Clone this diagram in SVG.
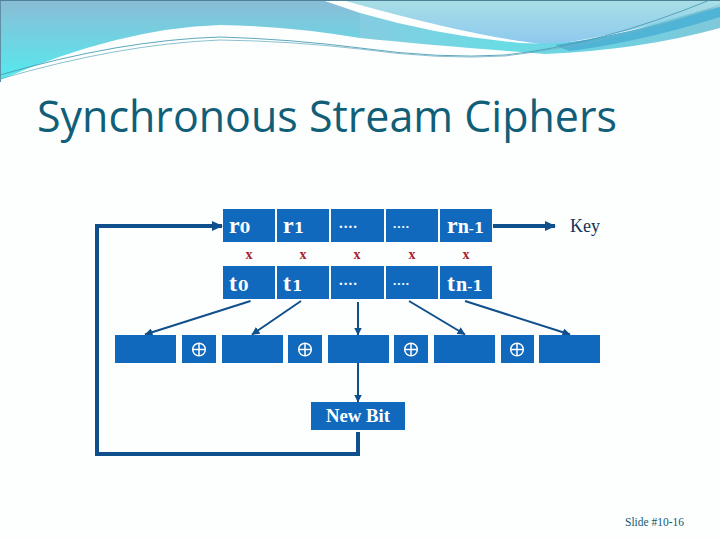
<svg xmlns="http://www.w3.org/2000/svg" width="720" height="540" viewBox="0 0 720 540">
<style>
.b{fill:#1169bd}
.s{font-family:"Liberation Serif",serif;fill:#fff}
.r{font-size:24px;font-weight:bold}
.d{font-family:"DejaVu Serif",serif;font-size:15px;font-weight:bold}
.n{font-size:20px}
.m{font-size:15px}
.dots{font-weight:bold;letter-spacing:1px}
.x{font-family:"Liberation Serif",serif;font-size:14px;font-weight:bold;fill:#a81c2c;text-anchor:middle}
.c{fill:none;stroke:#0f4f8c}
.t{stroke-width:4}
.h{stroke-width:2}
.p{fill:none;stroke:#fff;stroke-width:1.5}
</style>
<defs>
<linearGradient id="g1" x1="0" y1="0" x2="0" y2="1"><stop offset="0" stop-color="#8abcd6"/><stop offset="1" stop-color="#55eaee"/></linearGradient>
<linearGradient id="g2" x1="0" y1="0" x2="0" y2="1"><stop offset="0" stop-color="#a9dfe6"/><stop offset="1" stop-color="#8cc8ee"/></linearGradient>
<linearGradient id="g3" x1="0" y1="0" x2="1" y2="0"><stop offset="0" stop-color="#85cce0"/><stop offset="0.4" stop-color="#6adce4"/><stop offset="0.7" stop-color="#6fd0e0"/><stop offset="1" stop-color="#80c8da"/></linearGradient>
<marker id="a" viewBox="0 0 11 10" refX="10" refY="5" markerWidth="11" markerHeight="10" markerUnits="userSpaceOnUse" orient="auto"><path d="M0 0L11 5L0 10Z" fill="#0f4f8c"/></marker>
<marker id="s" viewBox="0 0 8 8" refX="7.5" refY="4" markerWidth="8" markerHeight="8" markerUnits="userSpaceOnUse" orient="auto"><path d="M0 0L8 4L0 8Z" fill="#0f4f8c"/></marker>
</defs>
<rect width="720" height="540" fill="#fdfefe"/>
<g id="background">
<path d="M0 0H322L360 13V38Q290 26 220 25Q120 28 0 80Z" fill="url(#g1)"/>
<path d="M.5 0V82" stroke="#5f8ea5" fill="none"/>
<path d="M342 0H720V5Q640 32 550 45Q480 38 360 5Z" fill="url(#g2)"/>
<path d="M360 13Q440 36 520 43Q590 46 650 25Q690 13 720 6V28Q640 50 545 54Q440 46 360 38Z" fill="url(#g3)"/>
<path d="M555 45Q640 32 720 7V17Q640 42 570 51Q560 48 555 45Z" fill="#4fb4d6"/>
<path d="M0 .5H720" stroke="#4f8098" fill="none"/>
<path d="M0 75Q120 40 220 37Q290 39 360 48Q440 59 505 55Q600 45 710 0" fill="none" stroke="#4d9db5" stroke-width=".9"/>
<path d="M0 79Q120 44 220 40Q290 41 360 49Q440 60 505 56Q620 42 720 5" fill="none" stroke="#6fb3c4" stroke-width=".8"/>
</g>
<text id="title" x="37" y="132" font-family="'Open Sans',sans-serif" font-size="44" fill="#115e78" textLength="580" lengthAdjust="spacingAndGlyphs">Synchronous Stream Ciphers</text>
<g id="connectors" class="c">
<path class="t" d="M358 432V454H97V226H222" marker-end="url(#a)"/>
<path class="t" d="M493 226H555" marker-end="url(#a)"/>
<path class="h" d="M250.500 301L145 334.500" marker-end="url(#s)"/>
<path class="h" d="M301 301L252 334.500" marker-end="url(#s)"/>
<path class="h" d="M358 302V335" marker-end="url(#s)"/>
<path class="h" d="M409 301L465 334.500" marker-end="url(#s)"/>
<path class="h" d="M465 301L570 334.500" marker-end="url(#s)"/>
<path class="h" d="M358 363V402" marker-end="url(#s)"/>
</g>
<g id="r0"><rect class="b" x="223" y="209" width="52" height="33"/><text class="s r" x="229" y="233">r<tspan class="d">0</tspan></text></g>
<g id="r1"><rect class="b" x="277" y="209" width="52" height="33"/><text class="s r" x="283" y="233">r<tspan class="d">1</tspan></text></g>
<g id="r2"><rect class="b" x="331" y="209" width="53" height="33"/><text class="s dots" x="339" y="228" font-size="15">....</text></g>
<g id="r3"><rect class="b" x="386" y="209" width="52" height="33"/><text class="s dots" x="393" y="228" font-size="13">....</text></g>
<g id="rn"><rect class="b" x="440" y="209" width="52" height="33"/><text class="s r" x="447" y="233">r<tspan class="n">n</tspan><tspan class="m">-</tspan><tspan class="d">1</tspan></text></g>
<g id="xs">
<text class="x" x="249" y="259">x</text><text class="x" x="303" y="259">x</text><text class="x" x="357" y="259">x</text><text class="x" x="412" y="259">x</text><text class="x" x="466" y="259">x</text>
</g>
<g id="t0"><rect class="b" x="223" y="266" width="52" height="33"/><text class="s r" x="229" y="291">t<tspan class="d" dx="1">0</tspan></text></g>
<g id="t1"><rect class="b" x="277" y="266" width="52" height="33"/><text class="s r" x="283" y="291">t<tspan class="d" dx="1">1</tspan></text></g>
<g id="t2"><rect class="b" x="331" y="266" width="53" height="33"/><text class="s dots" x="339" y="285" font-size="15">....</text></g>
<g id="t3"><rect class="b" x="386" y="266" width="52" height="33"/><text class="s dots" x="393" y="285" font-size="13">....</text></g>
<g id="tn"><rect class="b" x="440" y="266" width="52" height="33"/><text class="s r" x="447" y="291">t<tspan class="n" dx="1">n</tspan><tspan class="m">-</tspan><tspan class="d">1</tspan></text></g>
<g id="c0"><rect class="b" x="115" y="335" width="61" height="28"/></g>
<g id="o0"><rect class="b" x="182" y="335" width="34" height="28"/><circle class="p" cx="199" cy="349.500" r="6.300"/><path class="p" d="M192.700 349.500H205.300M199 343.200V355.800"/></g>
<g id="c1"><rect class="b" x="222" y="335" width="61" height="28"/></g>
<g id="o1"><rect class="b" x="288" y="335" width="34" height="28"/><circle class="p" cx="305" cy="349.500" r="6.300"/><path class="p" d="M298.700 349.500H311.300M305 343.200V355.800"/></g>
<g id="c2"><rect class="b" x="328" y="335" width="61" height="28"/></g>
<g id="o2"><rect class="b" x="394" y="335" width="34" height="28"/><circle class="p" cx="411" cy="349.500" r="6.300"/><path class="p" d="M404.700 349.500H417.300M411 343.200V355.800"/></g>
<g id="c3"><rect class="b" x="434" y="335" width="61" height="28"/></g>
<g id="o3"><rect class="b" x="501" y="335" width="33" height="28"/><circle class="p" cx="517" cy="349.500" r="6.300"/><path class="p" d="M510.700 349.500H523.300M517 343.200V355.800"/></g>
<g id="c4"><rect class="b" x="539" y="335" width="61" height="28"/></g>
<g id="newbit"><rect class="b" x="311" y="402" width="94" height="28"/><text class="s" x="326" y="421.500" font-size="18" font-weight="bold" textLength="64" lengthAdjust="spacingAndGlyphs">New Bit</text></g>
<text id="key" x="570" y="232" font-family="'Liberation Serif',serif" font-size="18" fill="#14335a">Key</text>
<text id="slide" x="625" y="526" font-family="'Liberation Serif',serif" font-size="12" fill="#125a6e" textLength="59" lengthAdjust="spacingAndGlyphs">Slide #10-16</text>
</svg>
